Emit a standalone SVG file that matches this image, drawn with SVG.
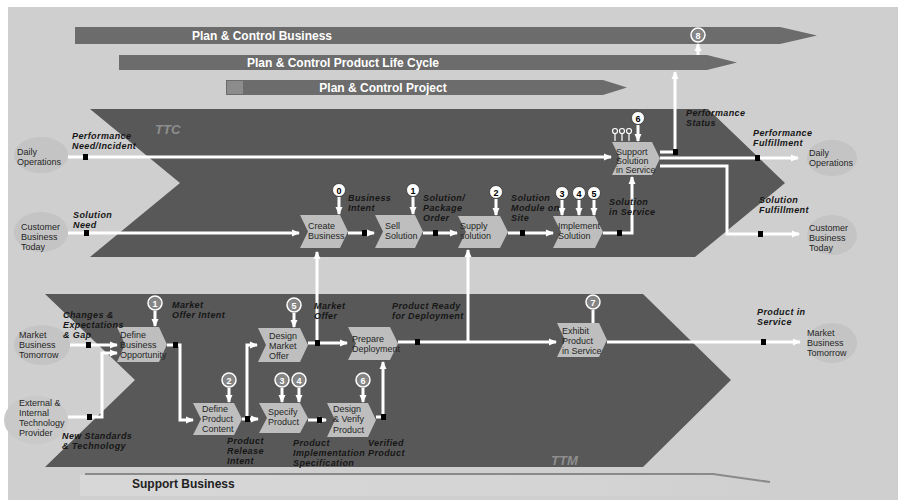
<svg xmlns="http://www.w3.org/2000/svg" width="898" height="500" viewBox="0 0 898 500">
<defs>
<marker id="ah" markerWidth="8" markerHeight="8" refX="7" refY="4" orient="auto" markerUnits="userSpaceOnUse"><path d="M0,0.5 L8,4 L0,7.5 z" fill="#ffffff"/></marker>
<linearGradient id="sbg" x1="0" y1="0" x2="1" y2="0"><stop offset="0" stop-color="#d7d7d7"/><stop offset="0.75" stop-color="#d4d4d4"/><stop offset="1" stop-color="#cfcfcf"/></linearGradient>
<style>
.bg{fill:#cfcfcf}
.band{fill:#585858}
.banner{fill:#6c6c6c}
.bt{font-family:"Liberation Sans",Arial,sans-serif;font-size:12px;font-weight:bold;fill:#ffffff}
.chev{fill:#bebebe}
.nt{font-family:"Liberation Sans",Arial,sans-serif;font-size:9px;fill:#262626}
.lb{font-family:"Liberation Sans",Arial,sans-serif;font-size:9px;font-weight:bold;font-style:italic;fill:#161616;letter-spacing:0.4px}
.ell{fill:#c4c4c4}
.wl{fill:none;stroke:#ffffff;stroke-width:3}
.sq{fill:#000000}
.cw{fill:#ffffff;stroke:#333333;stroke-width:0.8}
.cwt{font-family:"Liberation Sans",Arial,sans-serif;font-size:9px;font-weight:bold;fill:#000000;text-anchor:middle}
.cg{fill:#858585;stroke:#ffffff;stroke-width:1.5}
.cgt{font-family:"Liberation Sans",Arial,sans-serif;font-size:9px;font-weight:bold;fill:#ffffff;text-anchor:middle}
.big{font-family:"Liberation Sans",Arial,sans-serif;font-size:13px;font-weight:bold;font-style:italic;fill:#8e8e8e}
.sb{font-family:"Liberation Sans",Arial,sans-serif;font-size:12px;font-weight:bold;fill:#222222}
</style>
</defs>
<rect x="0" y="0" width="898" height="500" fill="#ffffff"/>
<rect class="bg" x="8" y="7" width="890" height="493"/>

<g id="banners">
<polygon class="banner" points="75,27 780,27 817,35.5 780,44 75,44"/>
<text class="bt" x="262" y="40" text-anchor="middle">Plan &amp; Control Business</text>
<polygon class="banner" points="119,55 707,55 737,62.5 707,70 119,70"/>
<text class="bt" x="343" y="67" text-anchor="middle">Plan &amp; Control Product Life Cycle</text>
<polygon class="banner" points="226,80 603,80 627,87.5 603,95 226,95"/>
<rect x="227" y="81" width="16" height="13" fill="#8c8c8c"/>
<text class="bt" x="383" y="92" text-anchor="middle">Plan &amp; Control Project</text>
</g>

<g id="ttc">
<polygon class="band" points="90,109 708,109 785,183 695,257 90,257 180,183"/>
<text class="big" x="155" y="134">TTC</text>
</g>
<g id="ttm">
<polygon class="band" points="45,294 643,294 731,380 643,467 45,467 135,380"/>
<text class="big" x="551" y="465">TTM</text>
</g>

<g id="support-business">
<polygon points="80,475 713,475 770,483 770,496 80,496" fill="url(#sbg)"/>
<path d="M85,474 H713 L770,482" fill="none" stroke="#8a8a8a" stroke-width="2"/>
<text class="sb" x="132" y="488">Support Business</text>
</g>

<g id="ext-daily-ops-left"><ellipse class="ell" cx="41" cy="155" rx="27" ry="18"/><text class="nt" x="17" y="155">Daily</text><text class="nt" x="17" y="165">Operations</text></g>
<g id="ext-customer-left"><ellipse class="ell" cx="41" cy="232" rx="27" ry="20"/><text class="nt" x="21" y="230">Customer</text><text class="nt" x="21" y="240">Business</text><text class="nt" x="21" y="250">Today</text></g>
<g id="ext-market-left"><ellipse class="ell" cx="42" cy="345" rx="28" ry="20"/><text class="nt" x="19" y="338">Market</text><text class="nt" x="19" y="348">Business</text><text class="nt" x="19" y="358">Tomorrow</text></g>
<g id="ext-technology"><ellipse cx="36" cy="420" rx="32" ry="24" fill="#c9c9c9"/><text class="nt" x="19" y="406">External &amp;</text><text class="nt" x="19" y="416">Internal</text><text class="nt" x="19" y="426">Technology</text><text class="nt" x="19" y="436">Provider</text></g>
<g id="ext-daily-ops-right"><ellipse class="ell" cx="832" cy="158" rx="25" ry="18"/><text class="nt" x="809" y="156">Daily</text><text class="nt" x="809" y="166">Operations</text></g>
<g id="ext-customer-right"><ellipse class="ell" cx="832" cy="235" rx="25" ry="20"/><text class="nt" x="809" y="231">Customer</text><text class="nt" x="809" y="241">Business</text><text class="nt" x="809" y="251">Today</text></g>
<g id="ext-market-right"><ellipse class="ell" cx="832" cy="343" rx="25" ry="20"/><text class="nt" x="807" y="336">Market</text><text class="nt" x="807" y="346">Business</text><text class="nt" x="807" y="356">Tomorrow</text></g>

<g id="connectors">
<path class="wl" d="M68,157 H611" marker-end="url(#ah)"/>
<path class="wl" d="M68,233 H299" marker-end="url(#ah)"/>
<path class="wl" d="M348,233 H374" marker-end="url(#ah)"/>
<path class="wl" d="M423,233 H457" marker-end="url(#ah)"/>
<path class="wl" d="M508,233 H553" marker-end="url(#ah)"/>
<path class="wl" d="M603,233 H632 V177" marker-end="url(#ah)"/>
<path class="wl" d="M660,152 H675 V72" marker-end="url(#ah)"/>
<path class="wl" d="M660,158 H798" marker-end="url(#ah)"/>
<path class="wl" d="M660,166 H727 V234 H799" marker-end="url(#ah)"/>
<path class="wl" d="M698,55 V44" marker-end="url(#ah)"/>
<path class="wl" d="M339,197 V214" marker-end="url(#ah)"/>
<path class="wl" d="M413,197 V214" marker-end="url(#ah)"/>
<path class="wl" d="M496,199 V215" marker-end="url(#ah)"/>
<path class="wl" d="M562,200 V215" marker-end="url(#ah)"/>
<path class="wl" d="M579,200 V215" marker-end="url(#ah)"/>
<path class="wl" d="M594,200 V215" marker-end="url(#ah)"/>
<path class="wl" d="M638,125 V141" marker-end="url(#ah)"/>
<g fill="none" stroke="#ffffff" stroke-width="1.2">
<circle cx="615" cy="131" r="2.5"/><circle cx="622" cy="131" r="2.5"/><circle cx="629" cy="131" r="2.5"/>
<path d="M615,134 V141 M622,134 V141 M629,134 V141"/>
</g>
<path class="wl" d="M70,345 H117" marker-end="url(#ah)"/>
<path class="wl" d="M68,417 H102 V353 H117" marker-end="url(#ah)"/>
<path class="wl" d="M167,345 H180 V420 H193" marker-end="url(#ah)"/>
<path class="wl" d="M242,419 H258" marker-end="url(#ah)"/>
<path class="wl" d="M247,419 V345 H257" marker-end="url(#ah)"/>
<path class="wl" d="M308,343 H347" marker-end="url(#ah)"/>
<path class="wl" d="M317,343 V252" marker-end="url(#ah)"/>
<path class="wl" d="M398,342 H556" marker-end="url(#ah)"/>
<path class="wl" d="M468,342 V250" marker-end="url(#ah)"/>
<path class="wl" d="M308,420 H326" marker-end="url(#ah)"/>
<path class="wl" d="M376,417 H383 V362" marker-end="url(#ah)"/>
<path class="wl" d="M607,342 H800" marker-end="url(#ah)"/>
<path class="wl" d="M155,311 V326" marker-end="url(#ah)"/>
<path class="wl" d="M294,313 V327" marker-end="url(#ah)"/>
<path class="wl" d="M229,388 V402" marker-end="url(#ah)"/>
<path class="wl" d="M282,388 V402" marker-end="url(#ah)"/>
<path class="wl" d="M299,388 V402" marker-end="url(#ah)"/>
<path class="wl" d="M363,388 V402" marker-end="url(#ah)"/>
<path class="wl" d="M593,310 V323"/>
<rect class="sq" x="83" y="154" width="5" height="6"/>
<rect class="sq" x="84" y="230" width="5" height="6"/>
<rect class="sq" x="362" y="230" width="5" height="6"/>
<rect class="sq" x="433" y="230" width="5" height="6"/>
<rect class="sq" x="520" y="230" width="5" height="6"/>
<rect class="sq" x="617" y="230" width="5" height="6"/>
<rect class="sq" x="673" y="149" width="5" height="6"/>
<rect class="sq" x="755" y="155" width="5" height="6"/>
<rect class="sq" x="758" y="231" width="5" height="6"/>
<rect class="sq" x="86" y="342" width="5" height="6"/>
<rect class="sq" x="87" y="414" width="5" height="6"/>
<rect class="sq" x="173" y="342" width="5" height="6"/>
<rect class="sq" x="245" y="416" width="5" height="6"/>
<rect class="sq" x="315" y="340" width="5" height="6"/>
<rect class="sq" x="415" y="339" width="5" height="6"/>
<rect class="sq" x="317" y="417" width="5" height="6"/>
<rect class="sq" x="381" y="414" width="5" height="6"/>
<rect class="sq" x="761" y="339" width="5" height="6"/>
</g>

<g id="circles">
<circle class="cg" cx="698" cy="35" r="7"/><text class="cgt" x="698" y="38.5">8</text>
<circle class="cw" cx="339" cy="190" r="6.5"/><text class="cwt" x="339" y="193.5">0</text>
<circle class="cw" cx="413" cy="190" r="6.5"/><text class="cwt" x="413" y="193.5">1</text>
<circle class="cw" cx="496" cy="192" r="6.5"/><text class="cwt" x="496" y="195.5">2</text>
<circle class="cw" cx="562" cy="193" r="6.5"/><text class="cwt" x="562" y="196.5">3</text>
<circle class="cw" cx="579" cy="193" r="6.5"/><text class="cwt" x="579" y="196.5">4</text>
<circle class="cw" cx="594" cy="193" r="6.5"/><text class="cwt" x="594" y="196.5">5</text>
<circle class="cw" cx="638" cy="118" r="6.5"/><text class="cwt" x="638" y="121.5">6</text>
<circle class="cg" cx="155" cy="303" r="7"/><text class="cgt" x="155" y="306.5">1</text>
<circle class="cg" cx="294" cy="305" r="7"/><text class="cgt" x="294" y="308.5">5</text>
<circle class="cg" cx="229" cy="380" r="7"/><text class="cgt" x="229" y="383.5">2</text>
<circle class="cg" cx="282" cy="380" r="7"/><text class="cgt" x="282" y="383.5">3</text>
<circle class="cg" cx="299" cy="380" r="7"/><text class="cgt" x="299" y="383.5">4</text>
<circle class="cg" cx="363" cy="380" r="7"/><text class="cgt" x="363" y="383.5">6</text>
<circle class="cg" cx="593" cy="302" r="7"/><text class="cgt" x="593" y="305.5">7</text>
</g>

<g id="create-business"><polygon class="chev" points="300,215 340,215 348,231.5 340,248 300,248 308,231.5"/><text class="nt" x="308" y="229">Create</text><text class="nt" x="308" y="239">Business</text></g>
<g id="sell-solution"><polygon class="chev" points="375,215 415,215 423,231.5 415,248 375,248 383,231.5"/><text class="nt" x="385" y="229">Sell</text><text class="nt" x="385" y="239">Solution</text></g>
<g id="supply-solution"><polygon class="chev" points="458,216 500,216 508,232 500,248 458,248 466,232"/><text class="nt" x="460" y="229">Supply</text><text class="nt" x="460" y="239">solution</text></g>
<g id="implement-solution"><polygon class="chev" points="553,216 595,216 603,232 595,248 553,248 561,232"/><text class="nt" x="558" y="229">Implement</text><text class="nt" x="558" y="239">Solution</text></g>
<g id="support-solution"><polygon class="chev" points="612,142 652,142 660,158.5 652,175 612,175 620,158.5"/><text class="nt" x="616" y="155">Support</text><text class="nt" x="616" y="164">Solution</text><text class="nt" x="616" y="173">in Service</text></g>

<g id="define-business-opportunity"><polygon class="chev" points="117,327 159,327 167,344.5 159,362 117,362 125,344.5"/><text class="nt" x="120" y="338">Define</text><text class="nt" x="120" y="348">Business</text><text class="nt" x="120" y="358">Opportunity</text></g>
<g id="design-market-offer"><polygon class="chev" points="258,328 300,328 308,345 300,362 258,362 266,345"/><text class="nt" x="269" y="339">Design</text><text class="nt" x="269" y="349">Market</text><text class="nt" x="269" y="359">Offer</text></g>
<g id="prepare-deployment"><polygon class="chev" points="348,327 390,327 398,343.5 390,360 348,360 356,343.5"/><text class="nt" x="352" y="342">Prepare</text><text class="nt" x="352" y="352">Deployment</text></g>
<g id="define-product-content"><polygon class="chev" points="193,403 234,403 242,419 234,435 193,435 201,419"/><text class="nt" x="202" y="412">Define</text><text class="nt" x="202" y="422">Product</text><text class="nt" x="202" y="432">Content</text></g>
<g id="specify-product"><polygon class="chev" points="259,403 300,403 308,418 300,433 259,433 267,418"/><text class="nt" x="268" y="415">Specify</text><text class="nt" x="268" y="425">Product</text></g>
<g id="design-verify-product"><polygon class="chev" points="327,403 368,403 376,420 368,437 327,437 335,420"/><text class="nt" x="333" y="412">Design</text><text class="nt" x="333" y="422">&amp; Verify</text><text class="nt" x="333" y="433">Product</text></g>
<g id="exhibit-product"><polygon class="chev" points="557,323 599,323 607,340 599,357 557,357 565,340"/><text class="nt" x="562" y="334">Exhibit</text><text class="nt" x="562" y="344">Product</text><text class="nt" x="562" y="354">in Service</text></g>

<g id="labels">
<text class="lb" x="72" y="139">Performance</text><text class="lb" x="72" y="149">Need/Incident</text>
<text class="lb" x="73" y="218">Solution</text><text class="lb" x="73" y="228">Need</text>
<text class="lb" x="348" y="201">Business</text><text class="lb" x="348" y="211">Intent</text>
<text class="lb" x="423" y="201">Solution/</text><text class="lb" x="423" y="211">Package</text><text class="lb" x="423" y="221">Order</text>
<text class="lb" x="511" y="201">Solution</text><text class="lb" x="511" y="211">Module on</text><text class="lb" x="511" y="221">Site</text>
<text class="lb" x="609" y="205">Solution</text><text class="lb" x="609" y="215">in Service</text>
<text class="lb" x="686" y="116">Performance</text><text class="lb" x="686" y="126">Status</text>
<text class="lb" x="753" y="136">Performance</text><text class="lb" x="753" y="146">Fulfillment</text>
<text class="lb" x="759" y="203">Solution</text><text class="lb" x="759" y="213">Fulfillment</text>
<text class="lb" x="63" y="318">Changes &amp;</text><text class="lb" x="63" y="328">Expectations</text><text class="lb" x="63" y="338">&amp; Gap</text>
<text class="lb" x="62" y="439">New Standards</text><text class="lb" x="62" y="449">&amp; Technology</text>
<text class="lb" x="172" y="308">Market</text><text class="lb" x="172" y="318">Offer Intent</text>
<text class="lb" x="314" y="309">Market</text><text class="lb" x="314" y="319">Offer</text>
<text class="lb" x="392" y="309">Product Ready</text><text class="lb" x="392" y="319">for Deployment</text>
<text class="lb" x="227" y="444">Product</text><text class="lb" x="227" y="454">Release</text><text class="lb" x="227" y="464">Intent</text>
<text class="lb" x="293" y="446">Product</text><text class="lb" x="293" y="456">Implementation</text><text class="lb" x="293" y="466">Specification</text>
<text class="lb" x="368" y="446">Verified</text><text class="lb" x="368" y="456">Product</text>
<text class="lb" x="757" y="315">Product in</text><text class="lb" x="757" y="325">Service</text>
</g>
</svg>
